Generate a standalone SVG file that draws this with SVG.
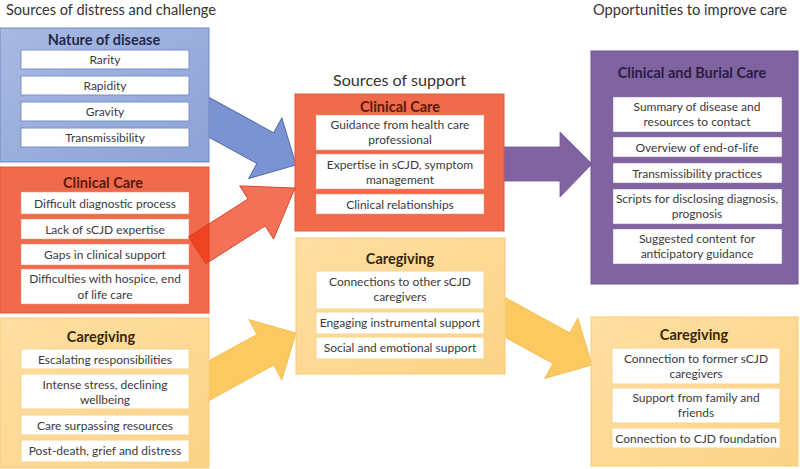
<svg xmlns="http://www.w3.org/2000/svg" width="800" height="469" viewBox="0 0 800 469">
<defs>
<linearGradient id="gBlue" x1="0" y1="0" x2="1" y2="1"><stop offset="0" stop-color="#A8B9E2"/><stop offset="1" stop-color="#8DA2D6"/></linearGradient>
<linearGradient id="gYel" x1="0" y1="0" x2="1" y2="1"><stop offset="0" stop-color="#FEDFA2"/><stop offset="1" stop-color="#FCD386"/></linearGradient>
<style>
text{font-family:Lato,"Liberation Sans",sans-serif;fill:#3a3a3a;text-anchor:middle}
.hdr{font-size:15.5px;fill:#333;text-anchor:start}
.ttl{font-size:14.5px;font-weight:bold}
.it{font-size:12px}
.item{fill:#fff}
.blue{fill:url(#gBlue);stroke:#7188C6;stroke-width:1}
.red{fill:#F06A4C;stroke:#E5573B;stroke-width:1}
.yel{fill:url(#gYel);stroke:#F7CB78;stroke-width:1}
.pur{fill:#8064A2;stroke:#6F5592;stroke-width:1}
.bi{stroke:#7890CC;stroke-width:1}
.ri{stroke:#F38B72;stroke-width:0.5}
.yi{stroke:#F8D48E;stroke-width:1}
.pi{stroke:#8E74AD;stroke-width:0.5}
</style>
</defs>
<rect width="800" height="469" fill="#fff"/>

<text class="hdr" x="6" y="15" textLength="210" lengthAdjust="spacingAndGlyphs">Sources of distress and challenge</text>
<text class="hdr" x="333" y="86" textLength="133" lengthAdjust="spacingAndGlyphs">Sources of support</text>
<text class="hdr" x="593" y="15" textLength="194" lengthAdjust="spacingAndGlyphs">Opportunities to improve care</text>

<g id="connectors">
<polygon transform="translate(296,165) rotate(28.7)" points="0,0 -35,-34.5 -35,-17.5 -130,-17.5 -130,17.5 -35,17.5 -35,34.5" fill="#7B93D0" stroke="#4F6BB0" stroke-width="1"/>
<polygon transform="translate(296,333) rotate(-28.7)" points="0,0 -35,-34.5 -35,-17.5 -130,-17.5 -130,17.5 -35,17.5 -35,34.5" fill="#FBC95F" stroke="#F3BC50" stroke-width="0.8"/>
<polygon transform="translate(592,365) rotate(28.7)" points="0,0 -35,-34.5 -35,-17.5 -130,-17.5 -130,17.5 -35,17.5 -35,34.5" fill="#FBC95F" stroke="#F3BC50" stroke-width="0.8"/>
<polygon points="500,147 560,147 560,132 592,164 560,197 560,181 500,181" fill="#8064A2" stroke="#6F5592" stroke-width="0.8"/>
</g>

<g id="nature">
<rect class="blue" x="0" y="28" width="209" height="134"/>
<text class="ttl" x="104" y="45" style="fill:#1E2B4C">Nature of disease</text>
<rect class="item bi" x="21" y="50" width="168" height="19"/><text class="it" x="105" y="64">Rarity</text>
<rect class="item bi" x="21" y="76" width="168" height="19"/><text class="it" x="105" y="90">Rapidity</text>
<rect class="item bi" x="21" y="102" width="168" height="19"/><text class="it" x="105" y="116">Gravity</text>
<rect class="item bi" x="21" y="128" width="168" height="19"/><text class="it" x="105" y="142">Transmissibility</text>
</g>

<g id="clinical-left">
<rect class="red" x="0" y="167" width="209" height="146"/>
<text class="ttl" x="103" y="188" style="fill:#5A1A0E">Clinical Care</text>
<rect class="item ri" x="21" y="192" width="168" height="22"/><text class="it" x="105" y="207.5">Difficult diagnostic process</text>
<rect class="item ri" x="21" y="219" width="168" height="20"/><text class="it" x="105" y="233.5">Lack of sCJD expertise</text>
<rect class="item ri" x="21" y="244" width="168" height="21"/><text class="it" x="105" y="259">Gaps in clinical support</text>
<rect class="item ri" x="21" y="269" width="168" height="35"/><text class="it" x="105" y="283">Difficulties with hospice, end</text><text class="it" x="105" y="298.5">of life care</text>
</g>

<g id="caregiving-left">
<rect class="yel" x="0" y="318" width="209" height="150"/>
<text class="ttl" x="101" y="342" style="fill:#3A2608">Caregiving</text>
<rect class="item yi" x="21" y="349" width="168" height="20"/><text class="it" x="105" y="363.5">Escalating responsibilities</text>
<rect class="item yi" x="21" y="374" width="168" height="35"/><text class="it" x="105" y="388.5">Intense stress, declining</text><text class="it" x="105" y="403.5">wellbeing</text>
<rect class="item yi" x="21" y="415" width="168" height="20"/><text class="it" x="105" y="429.5">Care surpassing resources</text>
<rect class="item yi" x="21" y="440" width="168" height="22"/><text class="it" x="105" y="454.5">Post-death, grief and distress</text>
</g>

<g id="clinical-mid">
<rect class="red" x="295" y="94" width="209" height="137"/>
<text class="ttl" x="400" y="112" style="fill:#5A1A0E">Clinical Care</text>
<rect class="item ri" x="316" y="115" width="168" height="35"/><text class="it" x="400" y="129">Guidance from health care</text><text class="it" x="400" y="144">professional</text>
<rect class="item ri" x="316" y="154" width="168" height="35"/><text class="it" x="400" y="168.5">Expertise in sCJD, symptom</text><text class="it" x="400" y="183.5">management</text>
<rect class="item ri" x="316" y="194" width="168" height="20"/><text class="it" x="400" y="208.5">Clinical relationships</text>
</g>

<g id="caregiving-mid">
<rect class="yel" x="296" y="238" width="209" height="136"/>
<text class="ttl" x="400" y="264" style="fill:#3A2608">Caregiving</text>
<rect class="item yi" x="316" y="271" width="168" height="38"/><text class="it" x="400" y="285.5">Connections to other sCJD</text><text class="it" x="400" y="300.5">caregivers</text>
<rect class="item yi" x="316" y="312" width="168" height="22"/><text class="it" x="400" y="326.5">Engaging instrumental support</text>
<rect class="item yi" x="316" y="337" width="168" height="22"/><text class="it" x="400" y="351.5">Social and emotional support</text>
</g>

<g id="clinical-burial">
<rect class="pur" x="591" y="51" width="207" height="233"/>
<text class="ttl" x="692" y="78" style="fill:#2B1C42">Clinical and Burial Care</text>
<rect class="item pi" x="613" y="97" width="169" height="35"/><text class="it" x="697" y="111">Summary of disease and</text><text class="it" x="697" y="126">resources to contact</text>
<rect class="item pi" x="613" y="137" width="169" height="20"/><text class="it" x="697" y="151.5">Overview of end-of-life</text>
<rect class="item pi" x="613" y="163" width="169" height="20"/><text class="it" x="697" y="177.5">Transmissibility practices</text>
<rect class="item pi" x="613" y="189" width="169" height="35"/><text class="it" x="697" y="203">Scripts for disclosing diagnosis,</text><text class="it" x="697" y="218">prognosis</text>
<rect class="item pi" x="613" y="229" width="169" height="35"/><text class="it" x="697" y="243">Suggested content for</text><text class="it" x="697" y="258">anticipatory guidance</text>
</g>

<g id="caregiving-right">
<rect class="yel" x="591" y="317" width="207" height="149"/>
<text class="ttl" x="694" y="340" style="fill:#3A2608">Caregiving</text>
<rect class="item yi" x="612" y="348" width="168" height="36"/><text class="it" x="696" y="362.5">Connection to former sCJD</text><text class="it" x="696" y="377.5">caregivers</text>
<rect class="item yi" x="612" y="388" width="168" height="35"/><text class="it" x="696" y="402">Support from family and</text><text class="it" x="696" y="417">friends</text>
<rect class="item yi" x="612" y="428" width="168" height="20"/><text class="it" x="696" y="442.5">Connection to CJD foundation</text>
</g>

<g id="connector-red">
<polygon transform="translate(295,188) rotate(-32.5)" points="0,0 -45.5,-31.5 -45.5,-16 -116,-16 -116,16 -45.5,16 -45.5,31.5" fill="#EC3410" fill-opacity="0.7" stroke="#D63A22" stroke-width="0.8"/>
</g>
</svg>
